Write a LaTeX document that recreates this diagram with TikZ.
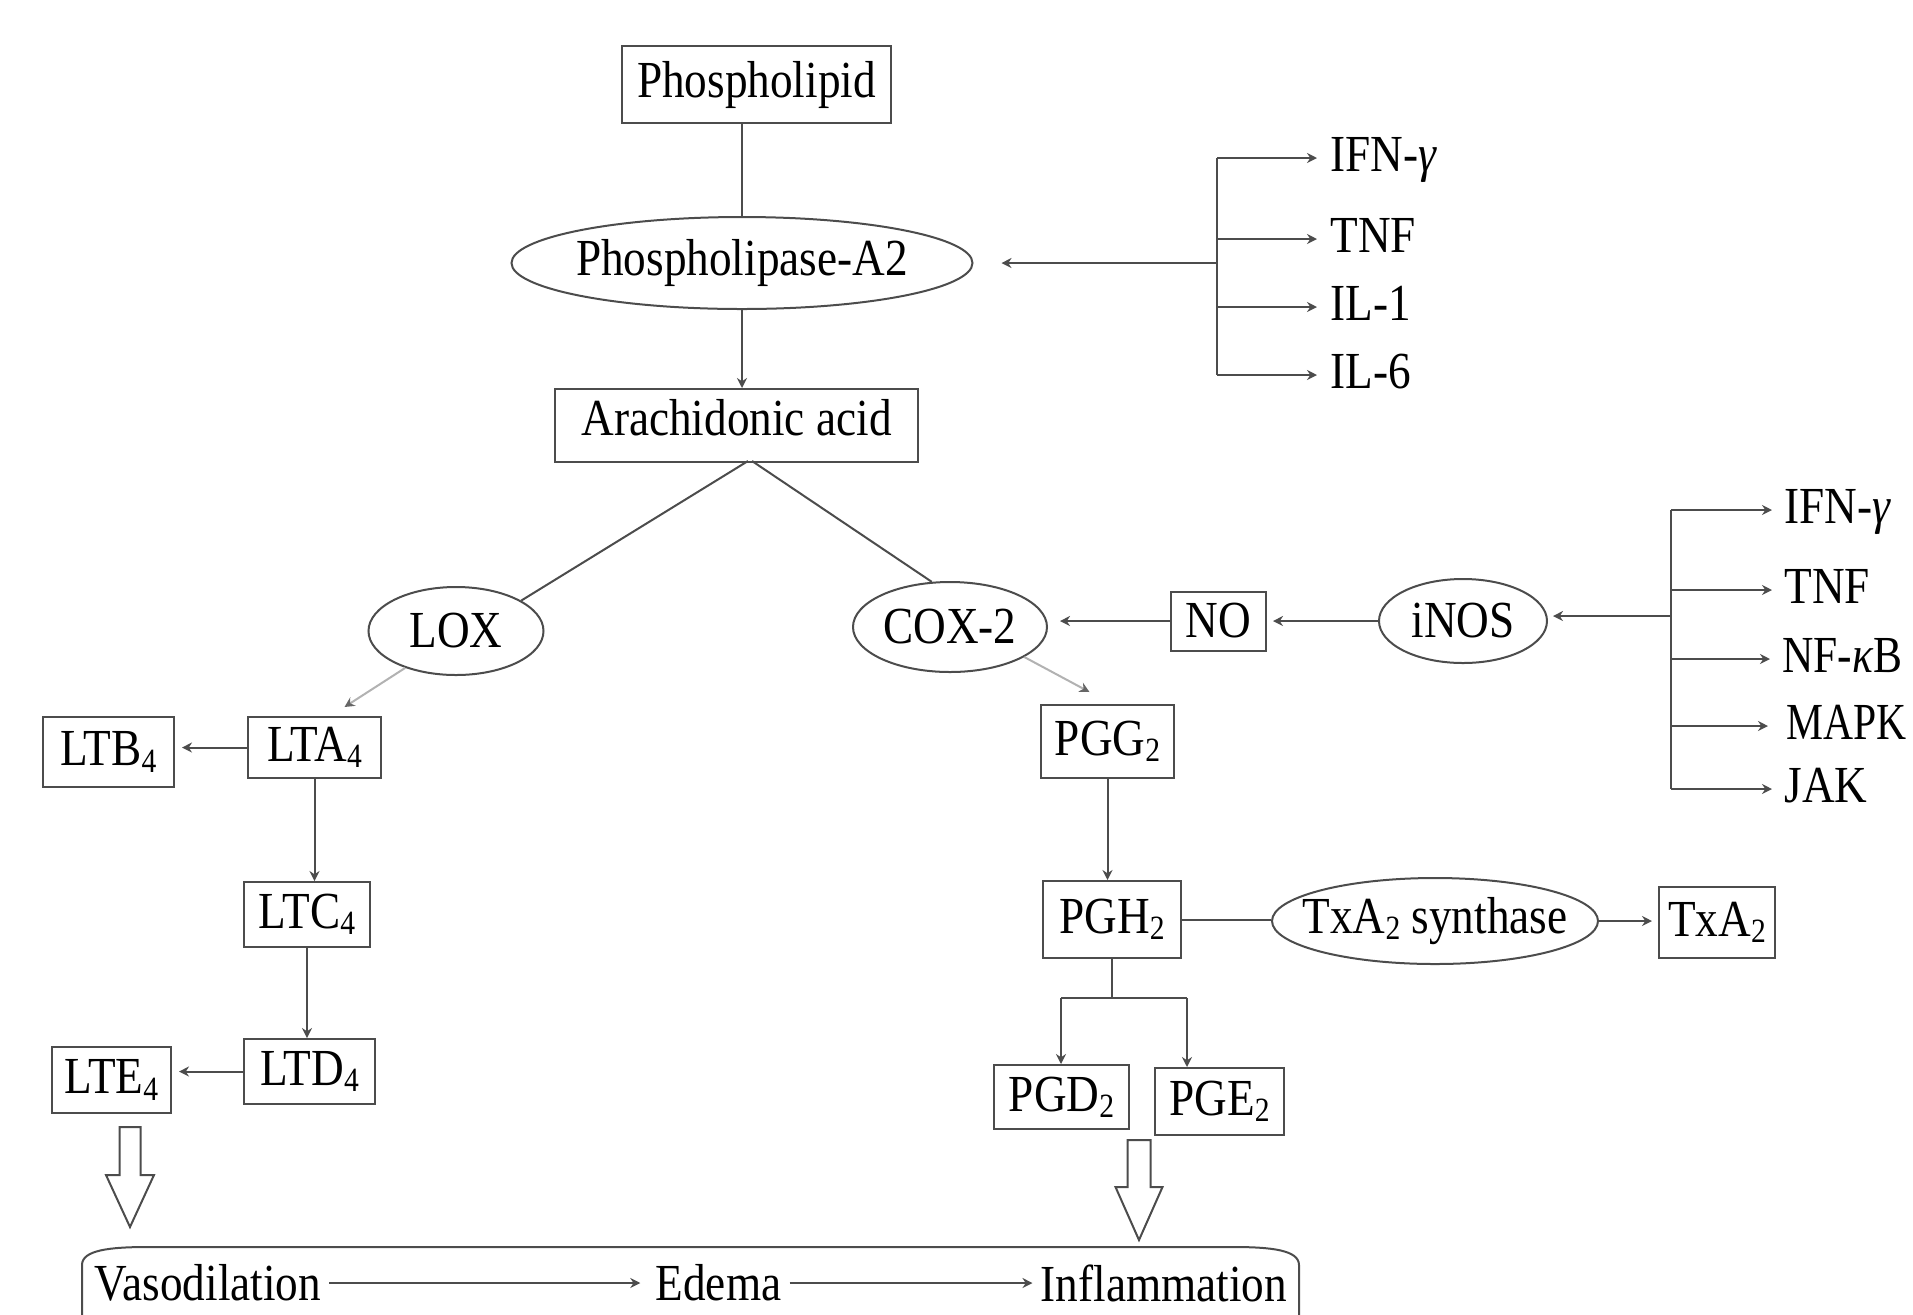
\documentclass[tikz,border=0pt]{standalone}
\usepackage{fontspec}
\setmainfont{Liberation Serif}[FakeStretch=0.87]
\usetikzlibrary{shapes.geometric,arrows.meta,calc}
\newcommand{\ms}[1]{\raisebox{-0.12em}{\fontsize{17pt}{17pt}\selectfont #1}}
\newcommand{\zw}[1]{\makebox[0pt]{#1}}
\begin{document}
\begin{tikzpicture}[x=0.5pt,y=-0.5pt,
  every node/.style={font=\fontsize{26pt}{30pt}\selectfont, text=black},
  ln/.style={draw=black!70, line width=1pt},
  bx/.style 2 args={ln, rectangle, inner sep=0pt, minimum width=#1*0.5pt, minimum height=#2*0.5pt},
  el/.style 2 args={ln, ellipse, inner sep=0pt, minimum width=#1*0.5pt, minimum height=#2*0.5pt},
  lbl/.style={anchor=west, inner sep=0pt, text height=18pt, text depth=5pt},
  tx/.style={inner sep=0pt},
  arr/.style={ln, -{Stealth[length=5pt,width=5pt]}},
  lt/.style={draw=black!30, line width=1pt, -{Stealth[length=5pt,width=5pt,color=black!60]}},
]
\useasboundingbox (0,0) rectangle (1913,1314);
\clip (0,0) rectangle (1913,1314);

% main column
\node[bx={269}{77}] (pl) at (756.5,84.5) {Phospholipid};
\node[el={461}{92}] (pla) at (742,263) {\zw{Phospholipase-A2}};
\node[bx={363}{73}, text depth=8pt] (aa) at (736.5,425.5) {Arachidonic acid};
\draw[ln] (pla.north |- pl.south) -- (pla.north);
\draw[arr] (pla.south) -- (pla.south |- aa.north);

% cytokines group 1
\coordinate (t1) at (1217,263);
\node[lbl] (c1a) at (1330,158) {IFN-\textit{γ}};
\node[lbl] (c1b) at (1330,239) {TNF};
\node[lbl] (c1c) at (1330,307) {IL-1};
\node[lbl] (c1d) at (1330,375) {IL-6};
\draw[ln] (c1a.west -| t1) -- (c1d.west -| t1);
\foreach \n in {c1a,c1b,c1c,c1d}
  \draw[arr, shorten >=6.5pt] (\n.west -| t1) -- (\n.west);
\draw[arr, shorten >=14pt] (t1) -- (t1 -| pla.east);

% LOX / COX
\node[el={175}{88}] (lox) at (456,631) {\zw{LOX}};
\node[el={194}{90}] (cox) at (950,627) {\zw{COX-2}};
\coordinate (aa1) at (748,461);
\coordinate (aa2) at (752,461);
\draw[ln] (aa1) -- (lox.25);
\draw[ln] (aa2) -- (cox.112);

% NO / iNOS
\node[bx={95}{59}] (no) at (1218.5,621) {NO};
\node[el={168}{84}] (inos) at (1463,621) {\zw{iNOS}};
\draw[arr, shorten >=3pt] (inos.west) -- (inos.west -| no.east);
\draw[arr, shorten >=6pt] (no.west) -- (no.west -| cox.east);

% cytokines group 2
\coordinate (t2) at (1671,616);
\node[lbl] (c2a) at (1784,510) {IFN-\textit{γ}};
\node[lbl] (c2b) at (1784,590) {TNF};
\node[lbl] (c2c) at (1782,659) {\scalebox{0.96}[1]{NF-\textit{κ}B}};
\node[lbl] (c2d) at (1786,726) {\scalebox{0.92}[1]{MAPK}};
\node[lbl] (c2e) at (1784,789) {JAK};
\draw[ln] (c2a.west -| t2) -- (c2e.west -| t2);
\foreach \n in {c2a,c2b,c2c,c2e}
  \draw[arr, shorten >=6pt] (\n.west -| t2) -- (\n.west);
\draw[arr, shorten >=9pt] (c2d.west -| t2) -- (c2d.west);
\draw[arr, shorten >=2.5pt] (t2) -- (t2 -| inos.east);

% leukotrienes
\node[bx={131}{70}] (ltb4) at (108.5,752) {LTB\ms{4}};
\node[bx={133}{61}] (lta4) at (314.5,747.5) {LTA\ms{4}};
\node[bx={126}{65}] (ltc4) at (307,914.5) {LTC\ms{4}};
\node[bx={131}{65}] (ltd4) at (309.5,1071.5) {LTD\ms{4}};
\node[bx={119}{66}] (lte4) at (111.5,1080) {LTE\ms{4}};
\draw[lt] (lox.216) -- ($(lta4.north)+(30,-9)$);
\draw[arr, shorten >=3.5pt] (lta4.west) -- (lta4.west -| ltb4.east);
\draw[arr] (lta4.south) -- (lta4.south |- ltc4.north);
\draw[arr] (ltc4.south) -- (ltc4.south |- ltd4.north);
\draw[arr, shorten >=3.5pt] (ltd4.west) -- (ltd4.west -| lte4.east);

% prostaglandins
\node[bx={133}{73}] (pgg2) at (1107.5,741.5) {PGG\ms{2}};
\node[bx={138}{77}] (pgh2) at (1112,919.5) {PGH\ms{2}};
\node[el={326}{86}] (txs) at (1435,921) {\zw{TxA\ms{2} synthase}};
\node[bx={116}{71}] (txa) at (1717,922.5) {TxA\ms{2}};
\node[bx={135}{64}] (pgd2) at (1061.5,1097) {PGD\ms{2}};
\node[bx={129}{67}] (pge2) at (1219.5,1101.5) {PGE\ms{2}};
\draw[lt] (cox.-22) -- ($(pgg2.north)+(-18,-12)$);
\draw[arr] (pgg2.south) -- (pgg2.south |- pgh2.north);
\draw[ln] (pgh2.east) -- (pgh2.east -| txs.west);
\draw[arr, shorten >=3pt] (txs.east) -- (txs.east -| txa.west);
\coordinate (sp) at (1112,998);
\coordinate (spl) at (1061,998);
\coordinate (spr) at (1187,998);
\draw[ln] (pgh2.south) -- (sp);
\draw[ln] (spl) -- (spr);
\draw[arr] (spl) -- (spl |- pgd2.north);
\draw[arr] (spr) -- (spr |- pge2.north);

% block arrows
\draw[ln, fill=white] (119.5,1127) -- (140.5,1127) -- (140.5,1175) -- (154,1175) -- (130,1227) -- (106,1175) -- (119.5,1175) -- cycle;
\draw[ln, fill=white] (1127.5,1140) -- (1150.5,1140) -- (1150.5,1187) -- (1162.5,1187) -- (1139,1240) -- (1115.5,1187) -- (1127.5,1187) -- cycle;

% outcome box
\draw[ln] (82,1400) -- (82,1265) .. controls (82,1250) and (110,1247) .. (148,1247) -- (1233,1247) .. controls (1271,1247) and (1299,1250) .. (1299,1265) -- (1299,1400);
\node[tx] (vaso) at (208,1283) {Vasodilation};
\node[tx] (edema) at (718.5,1283) {Edema};
\node[tx] (infl) at (1164,1283) {Inflammation};
\draw[arr, shorten <=4pt, shorten >=7.5pt] (vaso.east) -- (edema.west);
\draw[arr, shorten <=4pt, shorten >=4pt] (edema.east) -- (infl.west);
\end{tikzpicture}
\end{document}
